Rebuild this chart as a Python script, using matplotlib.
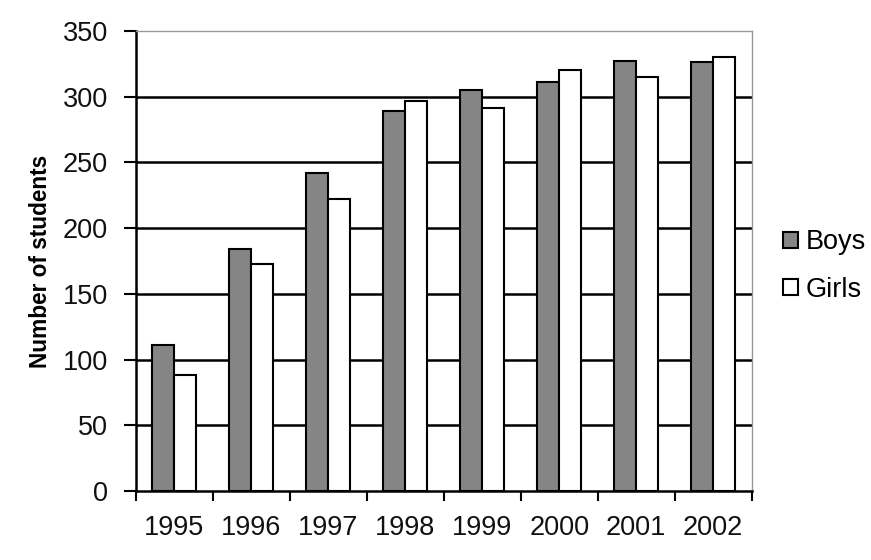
import matplotlib
matplotlib.use("Agg")
import matplotlib.pyplot as plt
import numpy as np

years = ["1995", "1996", "1997", "1998", "1999", "2000", "2001", "2002"]
boys = [111, 184, 242, 289, 305, 311, 327, 326]
girls = [88, 173, 222, 297, 291, 320, 315, 330]
yticks = [0, 50, 100, 150, 200, 250, 300, 350]

plt.rcParams['font.family'] = ['Liberation Sans', 'DejaVu Sans']

fig = plt.figure(figsize=(8.71, 5.60), dpi=100)
ax = fig.add_axes([0.156, 0.123, 0.707, 0.822])

x = np.arange(len(years))
w = 0.286
ax.bar(x - w/2, boys, w, color='#858585', edgecolor='black', linewidth=1.5, label='Boys', zorder=3)
ax.bar(x + w/2, girls, w, color='white', edgecolor='black', linewidth=1.5, label='Girls', zorder=3)

ax.set_xlim(-0.5, len(years) - 0.5)
ax.set_ylim(0, 350)
for yv in yticks[1:-1]:
    ax.axhline(yv, color='black', linewidth=1.8, zorder=1)

ax.set_yticks(yticks)
ax.set_yticklabels([str(v) for v in yticks], fontsize=19.5, color='#111111')
ax.set_xticks(x)
ax.set_xticklabels(years, fontsize=19.5, color='#111111')
ax.tick_params(axis='x', length=0, pad=17)
ax.set_xticks(np.arange(len(years) + 1) - 0.5, minor=True)
ax.tick_params(axis='x', which='minor', length=7, width=1.5, direction='out')
ax.tick_params(axis='y', length=9, width=1.5, direction='out', pad=11)

for s in ['left', 'bottom']:
    ax.spines[s].set_linewidth(1.8)
    ax.spines[s].set_color('black')
for s in ['top', 'right']:
    ax.spines[s].set_linewidth(1.0)
    ax.spines[s].set_color('#999999')

ax.set_ylabel('Number of students', fontsize=16.3, fontweight='bold', labelpad=8)

leg = fig.legend(loc='center left', bbox_to_anchor=(0.8714, 0.525), frameon=False,
                 fontsize=19.5, handlelength=0.55, handleheight=0.55, handletextpad=0.26,
                 labelspacing=0.78)

fig.savefig('out.png', dpi=100)
